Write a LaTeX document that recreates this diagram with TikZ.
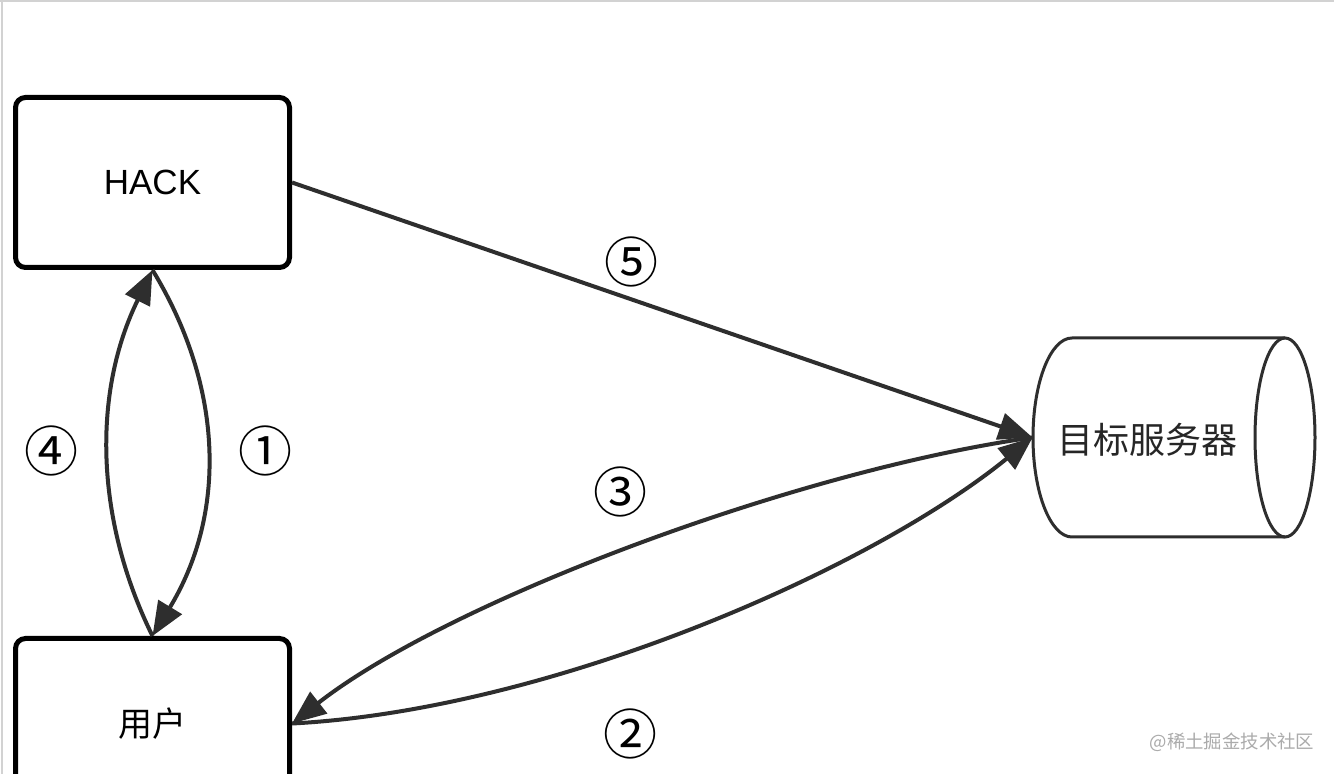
\documentclass[tikz,border=0pt]{standalone}
\usepackage{fontspec}
\setmainfont{Liberation Sans}
\newfontfamily\cjk{Noto Sans CJK SC}
\usetikzlibrary{arrows.meta}
\definecolor{lineGray}{HTML}{2E2E2E}
\definecolor{frameGray}{HTML}{D2D2D2}
\definecolor{markGray}{HTML}{ABABAB}
\tikzset{
  boxnode/.style={draw=black, line width=2.5pt, rounded corners=5pt, fill=white,
    minimum width=137pt, minimum height=85pt, inner sep=0pt},
  conn/.style={draw=lineGray, line width=2pt, -{Triangle[length=17pt,width=13.5pt]}},
  cyl/.style={draw=lineGray, line width=1.5pt},
  numlabel/.style={font=\cjk\fontsize{27pt}{27pt}\selectfont, inner sep=0pt},
}
\begin{document}
\begin{tikzpicture}[x=0.5pt,y=-0.5pt]
\useasboundingbox (0,0) rectangle (1334,774);
\clip (0,0) rectangle (1334,774);
\fill[white] (0,0) rectangle (1334,774);
\draw[frameGray, line width=1pt] (0,1.5) -- (1334,1.5);
\draw[frameGray, line width=1pt] (1.5,0) -- (1.5,774);
% boxes
\node[boxnode, font=\fontsize{17.5pt}{17.5pt}\selectfont] (hack) at (152.5,182.5) {HACK};
\node[boxnode, font=\cjk\fontsize{17pt}{17pt}\selectfont] (user) at (152.5,723.5) {用户};
% server cylinder
\node[minimum width=140pt, minimum height=99.5pt, inner sep=0pt] (srv) at (1173,437.5) {};
\draw[cyl, fill=white] (1285,338) -- (1072,338) arc[start angle=270, end angle=90, x radius=39, y radius=99.5] -- (1285,537);
\draw[cyl] (1285,437.5) ellipse[x radius=30, y radius=99.5];
\node[font=\cjk\fontsize{18pt}{18pt}\selectfont, text=black!85, inner sep=0pt] (srvtext) at (1147,440) {目标服务器};
% connectors
\draw[conn] (hack.east) -- (srv.west);
\draw[conn] (hack.south) .. controls +(73,120) and +(73,-120) .. (user.north);
\draw[conn] (user.north) .. controls +(-59,-120) and +(-59,120) .. (hack.south);
\draw[conn] (srv.west) .. controls (800,470) and (450,600) .. (user.east);
\draw[conn] (user.east) .. controls (550,710) and (870,570) .. (srv.west);
% labels
\node[numlabel] (l5) at (631,262) {⑤};
\node[numlabel] (l4) at (52,451) {④};
\node[numlabel] (l1) at (265,451) {①};
\node[numlabel] (l3) at (620,492) {③};
\node[numlabel] (l2) at (630,734) {②};
% watermark
\node[font=\cjk\fontsize{9.2pt}{9.2pt}\selectfont, text=markGray, inner sep=0pt] (wm) at (1232,742) {@稀土掘金技术社区};
\end{tikzpicture}
\end{document}
